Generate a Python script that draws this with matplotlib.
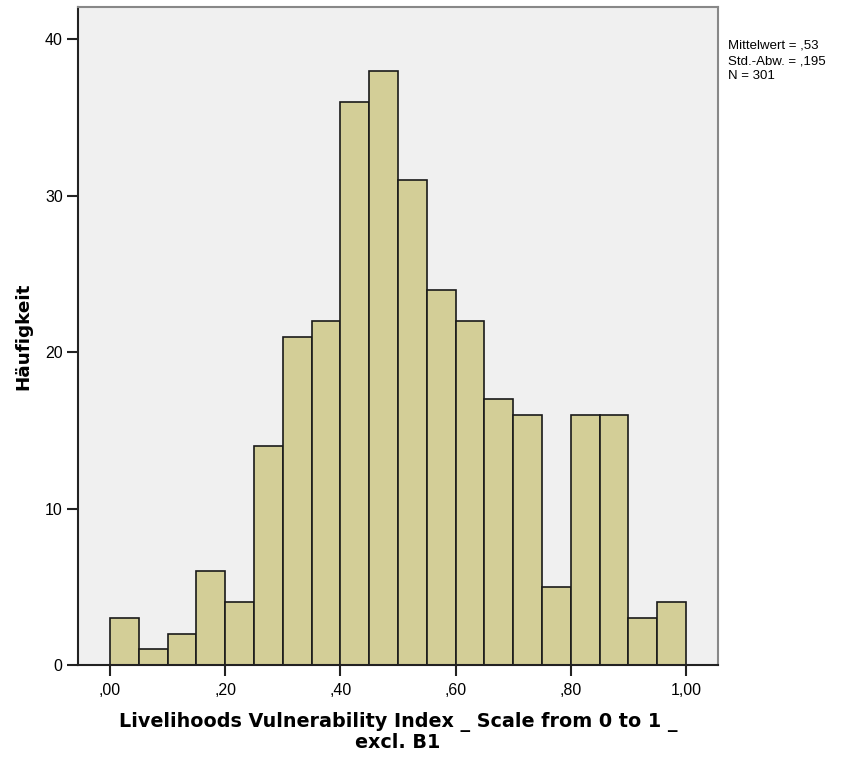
import matplotlib
matplotlib.use("Agg")
import matplotlib.pyplot as plt
import numpy as np

bin_edges = [round(i * 0.05, 2) for i in range(21)]
counts = [3, 1, 2, 6, 4, 14, 21, 22, 36, 38, 31, 24, 22, 17, 16, 5, 16, 16, 3, 4]
xticks = [0.0, 0.2, 0.4, 0.6, 0.8, 1.0]
xticklabels = [",00", ",20", ",40", ",60", ",80", "1,00"]
yticks = [0, 10, 20, 30, 40]
stats_text = "Mittelwert = ,53\nStd.-Abw. = ,195\nN = 301"

fig = plt.figure(figsize=(8.62, 7.63), dpi=100)
ax = fig.add_axes([78/862, 1 - 665/763, (718 - 78)/862, (665 - 7)/763])
ax.set_facecolor("#F0F0F0")

lefts = bin_edges[:-1]
widths = [bin_edges[i + 1] - bin_edges[i] for i in range(len(counts))]
ax.bar(lefts, counts, width=widths, align="edge", color="#D3CE97",
       edgecolor="#1a1a1a", linewidth=1.2, zorder=2)

ax.set_xlim(-0.0556, 1.0556)
ax.set_ylim(0, 42.07)
ax.set_xticks(xticks)
ax.set_xticklabels(xticklabels, fontfamily="Liberation Sans", fontsize=11.5)
ax.set_yticks(yticks)
ax.set_yticklabels([str(v) for v in yticks], fontfamily="Liberation Sans", fontsize=11.5)
ax.tick_params(axis="both", direction="out", length=8, width=1.5, color="#222222", pad=3)
ax.tick_params(axis="x", pad=5)

for side in ["left", "bottom"]:
    ax.spines[side].set_color("#222222")
    ax.spines[side].set_linewidth(1.5)
for side in ["top", "right"]:
    ax.spines[side].set_color("#888888")
    ax.spines[side].set_linewidth(1.5)

ax.set_xlabel("Livelihoods Vulnerability Index _ Scale from 0 to 1 _\nexcl. B1",
              fontfamily="DejaVu Sans", fontweight="bold", fontsize=13.8,
              labelpad=10, linespacing=1.05)
ax.set_ylabel("Häufigkeit", fontfamily="DejaVu Sans", fontweight="bold",
              fontsize=13.2, labelpad=9)

fig.text(728/862, 1 - 40/763, stats_text, fontfamily="Liberation Sans",
         fontsize=9.5, va="top", ha="left", linespacing=1.35)

fig.savefig("out.png", dpi=100)
